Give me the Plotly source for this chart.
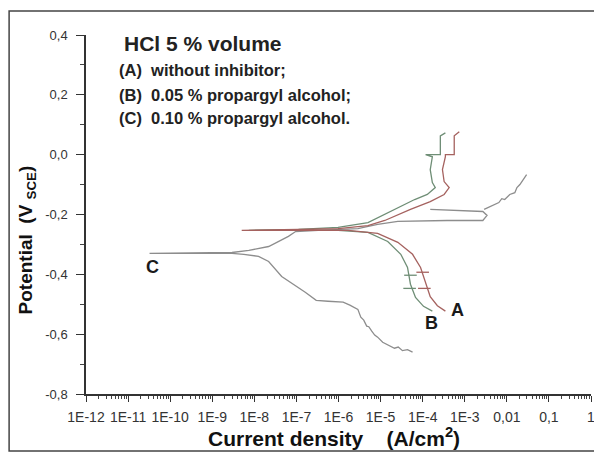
import plotly.graph_objects as go

# ---- data (log10 of current density in A/cm2, potential in V vs SCE) ----
a_log_i = [-3.46, -3.65, -3.82, -3.93, -4.05, -4.24, -4.59, -5.07, -5.77, -6.95, -8.30,
           -6.95, -6.01, -5.30, -4.90, -4.29, -3.82, -3.49, -3.37, -3.49, -3.53, -3.46,
           -3.46, -3.25, -3.25, -3.13]
a_potential = [-0.523, -0.505, -0.475, -0.427, -0.377, -0.333, -0.293, -0.263, -0.253, -0.253, -0.253,
               -0.25, -0.247, -0.237, -0.22, -0.183, -0.157, -0.133, -0.11, -0.09, -0.05, -0.007,
               0.0, 0.0, 0.063, 0.077]

b_log_i = [-3.77, -3.98, -4.17, -4.29, -4.36, -4.52, -4.83, -5.30, -6.01, -8.13,
           -6.95, -6.01, -5.30, -4.59, -4.19, -3.89, -3.70, -3.77, -3.82, -3.77,
           -3.93, -3.58, -3.58, -3.46]
b_potential = [-0.523, -0.507, -0.477, -0.433, -0.377, -0.333, -0.29, -0.26, -0.253, -0.253,
               -0.25, -0.243, -0.227, -0.177, -0.15, -0.133, -0.11, -0.093, -0.05, -0.007,
               0.0, 0.0, 0.063, 0.073]

c_log_i = [-4.24, -4.36, -4.48, -4.58, -4.67, -4.83, -4.95, -5.07, -5.14, -5.21, -5.28,
           -5.33, -5.40, -5.47, -5.54, -5.73, -5.89, -6.25, -6.53, -6.79, -7.07, -7.35,
           -7.66, -7.90, -8.25, -8.53,
           -10.49, -8.53, -8.13, -7.66, -7.19, -7.02, -6.48, -5.54, -5.07, -4.59,
           -3.42, -2.57, -2.47, -2.57, -3.82]
c_potential = [-0.66, -0.652, -0.655, -0.643, -0.647, -0.637, -0.627, -0.61, -0.603, -0.59, -0.575,
               -0.573, -0.553, -0.543, -0.517, -0.503, -0.493, -0.49, -0.487, -0.46, -0.433, -0.407,
               -0.357, -0.34, -0.333, -0.33,
               -0.33, -0.327, -0.32, -0.307, -0.273, -0.257, -0.253, -0.247, -0.233, -0.223,
               -0.22, -0.22, -0.203, -0.19, -0.183]

c_tail_log_i = [-2.54, -2.31, -2.19, -2.12, -2.05, -1.93, -1.81, -1.76, -1.69, -1.53]
c_tail_potential = [-0.183, -0.167, -0.16, -0.147, -0.15, -0.133, -0.127, -0.11, -0.10, -0.067]

a_mark_log_i = [-4.00, -3.96]
a_mark_potential = [-0.393, -0.447]
b_mark_log_i = [-4.29, -4.31]
b_mark_potential = [-0.403, -0.447]

x_tick_exp = list(range(-12, 1))
x_tick_text = ["1E-12", "1E-11", "1E-10", "1E-9", "1E-8", "1E-7", "1E-6", "1E-5",
               "1E-4", "1E-3", "0,01", "0,1", "1"]
y_tick_vals = [-0.8, -0.6, -0.4, -0.2, 0.0, 0.2, 0.4]
y_tick_text = ["-0,8", "-0,6", "-0,4", "-0,2", "0,0", "0,2", "0,4"]

legend_lines = ["(A)  without inhibitor;", "(B)  0.05 % propargyl alcohol;",
                "(C)  0.10 % propargyl alcohol."]

col_a = "#a5625f"
col_b = "#6f8e76"
col_c = "#8d8d8d"
FONT = "Liberation Sans, Arial, sans-serif"


def cur(vals):
    return [10 ** v for v in vals]


fig = go.Figure()
fig.add_trace(go.Scatter(x=cur(c_log_i), y=c_potential, mode="lines",
                         line=dict(color=col_c, width=1.3), showlegend=False))
fig.add_trace(go.Scatter(x=cur(c_tail_log_i), y=c_tail_potential, mode="lines",
                         line=dict(color=col_c, width=1.3), showlegend=False))
fig.add_trace(go.Scatter(x=cur(b_log_i), y=b_potential, mode="lines",
                         line=dict(color=col_b, width=1.3), showlegend=False))
fig.add_trace(go.Scatter(x=cur(a_log_i), y=a_potential, mode="lines",
                         line=dict(color=col_a, width=1.3), showlegend=False))
fig.add_trace(go.Scatter(x=cur(b_mark_log_i), y=b_mark_potential, mode="markers",
                         marker=dict(symbol="line-ew", size=9,
                                     line=dict(color=col_b, width=1.3)),
                         showlegend=False))
fig.add_trace(go.Scatter(x=cur(a_mark_log_i), y=a_mark_potential, mode="markers",
                         marker=dict(symbol="line-ew", size=9,
                                     line=dict(color=col_a, width=1.3)),
                         showlegend=False))

# plot area in window pixels: x 86..595, y 35..394 (page body adds an 8px offset)
def px_x(p):
    return (p - 86) / 509.0


def px_y(p):
    return (394 - p) / 359.0


annotations = []
annotations.append(dict(text="<b>HCl 5 % volume</b>", x=px_x(122), y=px_y(44),
                        xref="paper", yref="paper", xanchor="left", yanchor="middle",
                        showarrow=False, font=dict(family=FONT, size=21, color="#222")))
for txt, ypix in zip(legend_lines, [70, 95, 118]):
    annotations.append(dict(text="<b>" + txt + "</b>", x=px_x(117), y=px_y(ypix),
                            xref="paper", yref="paper", xanchor="left", yanchor="middle",
                            showarrow=False, font=dict(family=FONT, size=16.5, color="#222")))
annotations.append(dict(text="<b>Potential  (V <sub>SCE</sub>)</b>", textangle=-90,
                        x=px_x(27), y=px_y(240), xref="paper", yref="paper",
                        xanchor="center", yanchor="middle", showarrow=False,
                        font=dict(family=FONT, size=19, color="#111")))
annotations.append(dict(text="<b>Current density    (A/cm<sup>2</sup>)</b>",
                        x=px_x(336), y=px_y(437), xref="paper", yref="paper",
                        xanchor="center", yanchor="middle", showarrow=False,
                        font=dict(family=FONT, size=21, color="#111")))
for lab, lx, ly in [("C", -10.41, -0.377), ("A", -3.18, -0.52), ("B", -3.79, -0.563)]:
    annotations.append(dict(text="<b>" + lab + "</b>", x=lx, y=ly, xref="x", yref="y",
                            showarrow=False, xanchor="center", yanchor="middle",
                            font=dict(family=FONT, size=18, color="#1a1a1a")))

fig.update_layout(
    width=594, height=446,
    margin=dict(l=78, r=7, t=27, b=60),
    paper_bgcolor="white", plot_bgcolor="white",
    annotations=annotations,
    shapes=[dict(type="rect", xref="paper", yref="paper",
                 x0=px_x(8.5), x1=px_x(599), y0=px_y(451), y1=px_y(11),
                 line=dict(color="#444", width=1.5), layer="below")],
    xaxis=dict(type="log", range=[-12, 0],
               tickvals=[10 ** e for e in x_tick_exp], ticktext=x_tick_text,
               ticks="outside", ticklen=6, tickwidth=1.2, tickcolor="#333",
               showline=True, linecolor="#333", linewidth=1.5,
               showgrid=False, zeroline=False, ticklabelstandoff=3,
               minor=dict(ticks="outside", ticklen=3, tickcolor="#444", tickwidth=1,
                          dtick="D1", showgrid=False),
               tickfont=dict(family=FONT, size=14, color="#333")),
    yaxis=dict(range=[-0.8, 0.4], tickvals=y_tick_vals, ticktext=y_tick_text,
               ticks="outside", ticklen=8, tickwidth=1.2, tickcolor="#333",
               showline=True, linecolor="#333", linewidth=1.5,
               showgrid=False, zeroline=False, ticklabelstandoff=6,
               minor=dict(ticks="outside", ticklen=4, tickcolor="#444", tickwidth=1,
                          dtick=0.1, tick0=0, showgrid=False),
               tickfont=dict(family=FONT, size=13, color="#333")),
)

fig.write_html("out.html")
